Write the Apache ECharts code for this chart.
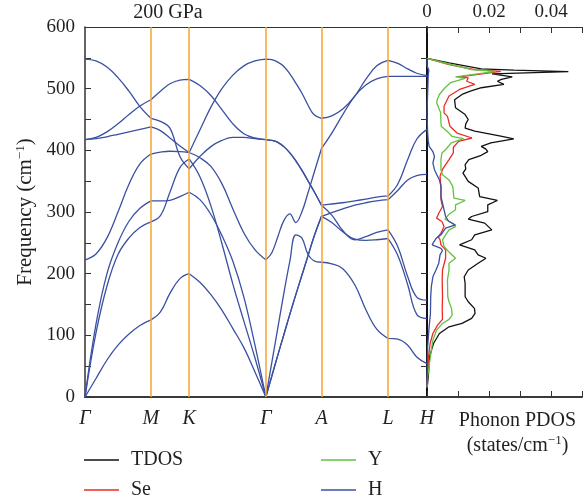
<!DOCTYPE html>
<html>
<head>
<meta charset="utf-8">
<script src="https://cdn.jsdelivr.net/npm/echarts@6/dist/echarts.min.js"></script>
<style>html,body{margin:0;padding:0;background:#fff}#c{width:585px;height:504px}</style>
</head>
<body>
<div id="c"></div>
<script>
// ---- k-path (high-symmetry points) ----
const kLabels = ['Γ', 'M', 'K', 'Γ', 'A', 'L', 'H'];
const kPos = [0, 66, 104.3, 181, 236.7, 303.3, 342.3];
// sample positions along each path segment
const segX = [
  [0, 11, 22, 33, 44, 55, 66],
  [66, 75.5, 85, 95, 104.3],
  [104.3, 115, 126, 137, 148, 159, 170, 181],
  [181, 187, 193, 199, 205, 211, 217, 223, 229, 236.7],
  [236.7, 247, 258, 270, 281, 292, 303.3],
  [303.3, 313, 323, 332, 342.3]
];
// ---- phonon bands (cm^-1), one array per segment ----
const band1 = [
  [417.5, 419, 422, 426, 430, 434, 438],
  [438, 432, 420, 407, 396.5],
  [396.5, 433, 470, 500, 522, 537, 545, 548],
  [548, 547, 543, 536, 524, 509, 493, 474, 458, 452],
  [452, 456, 467, 488, 515, 537, 546],
  [546, 541, 532, 525, 521]
];
const band2 = [
  [548, 545, 535, 518, 496, 471, 452],
  [452, 447, 436, 390, 370],
  [370, 390, 406, 416, 421, 421, 419, 417.5],
  [417.5, 416, 413, 406, 396, 383, 368, 351, 334, 311],
  [311, 313, 315, 318, 321, 324, 326],
  [326, 345, 385, 418, 434]
];
const band3 = [
  [417.5, 421, 430, 443, 458, 472, 482],
  [482, 496, 508, 514, 515],
  [515, 505, 489, 466, 443, 427, 420, 417.5],
  [417.5, 416, 413, 406, 396, 383, 368, 351, 334, 311],
  [311, 295, 270, 255, 260, 267, 271],
  [271, 244, 195, 162, 157]
];
const band4 = [
  [222.5, 232, 258, 300, 345, 378, 394],
  [394, 397, 398.5, 398, 396.5],
  [396.5, 388, 374, 346, 305, 266, 239, 222.5],
  [222.5, 234, 260, 286, 297, 283, 300, 330, 362, 403],
  [403, 428, 458, 488, 506, 516, 520],
  [520, 520, 520, 520, 520]
];
const band5 = [
  [0, 30, 60, 84, 102, 116, 125],
  [125, 138, 168, 192, 200],
  [200, 186, 166, 141, 111, 80, 41, 0],
  [0, 56, 112, 168, 220, 263, 258, 232, 221, 218.5],
  [218.5, 216, 208, 182, 142, 110, 95],
  [95, 94, 84, 65, 54]
];
const band6 = [
  [0, 104, 180, 231, 258, 275, 284],
  [284, 294, 332, 372, 386],
  [386, 357, 310, 249, 183, 123, 64, 0],
  [0, 34, 68, 101, 134, 166, 197, 228, 259, 293],
  [293, 299, 305, 311, 315, 318, 320],
  [320, 335, 352, 359, 361]
];
const band7 = [
  [0, 118, 200, 250, 285, 306, 318],
  [318, 318, 319, 325, 332],
  [332, 320, 296, 262, 220, 162, 85, 0],
  [0, 34, 68, 101, 134, 166, 197, 228, 259, 293],
  [293, 283, 268, 256, 254, 255, 257],
  [257, 230, 182, 134, 127]
];
const bands = [band1, band2, band3, band4, band5, band6, band7];

// ---- phonon PDOS: [frequency cm^-1, states/cm^-1] ----
const tdos = [[549,0],[542,0.0071],[532,0.0175],[530,0.028],[527.5,0.0456],[524,0.021],[521.5,0.0206],[519,0.0275],[515,0.024],[512,0.0227],[507,0.0248],[501.5,0.0175],[496,0.014],[490.6,0.0113],[482,0.0089],[469,0.0092],[458,0.0123],[450,0.0133],[443,0.0125],[436,0.0123],[431,0.0154],[423,0.0238],[418.5,0.028],[412,0.0206],[406.5,0.0175],[402,0.019],[398,0.0196],[392,0.0175],[385,0.0135],[377,0.0123],[370,0.0125],[363,0.0116],[356,0.0125],[349.6,0.0133],[339,0.0165],[325,0.017],[318.7,0.0227],[311.7,0.0196],[300.8,0.0196],[292.7,0.0144],[288.4,0.0133],[282,0.0186],[271,0.0209],[263,0.0154],[255,0.0144],[246.7,0.0105],[238.5,0.0154],[230.4,0.0165],[225,0.019],[217,0.0165],[206,0.0133],[195,0.012],[184,0.0123],[162.6,0.0123],[154.5,0.0133],[143.7,0.0153],[135.6,0.0155],[127.5,0.0144],[119.3,0.0113],[113.8,0.0071],[103,0.004],[86.8,0.0021],[65,0.0008],[38,0.0005],[12,0]];
const pdosSe = [[549,0],[539,0.0071],[531,0.0154],[528,0.0238],[519,0.0105],[517.6,0.0133],[512,0.0128],[507,0.0154],[498.7,0.0105],[488,0.0071],[471.5,0.0055],[460.8,0.0055],[455,0.0066],[439,0.0074],[428,0.0097],[420,0.0145],[414.6,0.0102],[405,0.0085],[396,0.0085],[385,0.0071],[369,0.005],[358,0.0042],[341.5,0.0045],[320,0.0045],[309,0.005],[298,0.0038],[290,0.0031],[284.5,0.0048],[276.4,0.0055],[265.7,0.0045],[260,0.0036],[255,0.0042],[246.7,0.0045],[238.5,0.006],[225,0.006],[206,0.005],[190,0.0049],[162.6,0.005],[141,0.0049],[126,0.005],[116.6,0.0034],[103,0.0019],[86.8,0.001],[65,0.0005],[43,0.0002],[18,0]];
const pdosY = [[549,0],[540,0.0071],[531,0.0144],[528,0.0222],[519,0.0092],[516.6,0.0123],[509.6,0.0076],[501.5,0.0058],[490.6,0.004],[482,0.0033],[477,0.0031],[460.8,0.0044],[444.6,0.0045],[439,0.0046],[428,0.0071],[422.8,0.008],[419,0.0118],[412,0.0078],[401,0.006],[395.8,0.0048],[385,0.0045],[368.6,0.0045],[360.5,0.005],[352,0.0071],[341.5,0.0083],[322.6,0.0087],[318.7,0.0123],[311.7,0.0092],[303.6,0.0092],[295.4,0.0069],[288.4,0.0058],[282,0.0081],[276.4,0.0092],[271,0.0071],[263,0.006],[254.8,0.005],[244,0.0055],[237.5,0.0066],[225,0.0092],[217,0.0071],[206,0.0071],[189.8,0.0066],[162.6,0.0067],[154.5,0.0071],[143.7,0.0079],[132.8,0.0081],[125.8,0.0071],[119.3,0.005],[108.5,0.0031],[92.2,0.0019],[76,0.0014],[54.3,0.0008],[32.5,0.0002],[15,0]];
const pdosH = [[549,0],[537,0],[530,0.0006],[527,0.001],[522,0.0004],[519,0],[460,0],[430,0.0002],[415,0.0004],[406.5,0.0007],[398,0.0019],[390,0.0024],[379.5,0.0019],[368.6,0.0024],[352,0.004],[341.5,0.0045],[325,0.0045],[314.5,0.005],[303.6,0.0055],[292.7,0.006],[285,0.007],[279,0.0092],[273.8,0.006],[263,0.0045],[257.6,0.003],[250,0.002],[246.7,0.0017],[241,0.0045],[237.5,0.005],[230.4,0.0042],[217,0.0038],[206,0.0029],[195,0.0019],[179,0.0014],[162.6,0.0012],[135.6,0.0011],[108.5,0.0006],[81,0.0002],[50,0.0001],[20,0]];
const yTicks = [0, 100, 200, 300, 400, 500, 600];
const dosTicks = [0, 0.02, 0.04];

const FONT = "'Liberation Serif', 'Times New Roman', serif";
const TXT = '#231f20';
const BLUE = '#3a50a2';
const ORANGE = '#f6a431';

const chart = echarts.init(document.getElementById('c'), null, {renderer: 'canvas'});

function bandSeries(segs, idx) {
  const data = [];
  segs.forEach((vals, s) => {
    if (s > 0) data.push(['-', '-']);
    vals.forEach((f, i) => data.push([segX[s][i], f]));
  });
  return {
    type: 'line', name: 'band' + (idx + 1), xAxisIndex: 0, yAxisIndex: 0,
    data, smooth: 0.4, symbol: 'none', showSymbol: false, connectNulls: false,
    lineStyle: {color: BLUE, width: 1.3}, itemStyle: {color: BLUE}, z: 3, silent: true
  };
}
function dosSeries(name, pts, color) {
  return {
    type: 'line', name, xAxisIndex: 2, yAxisIndex: 1,
    data: pts.map(p => [p[1], p[0]]), symbol: 'none', showSymbol: false,
    lineStyle: {color, width: 1.3}, itemStyle: {color}, z: 3, silent: true
  };
}
function legendItem(name, left, top) {
  return {
    data: [name], orient: 'vertical', left, top, padding: 0,
    icon: 'rect', itemWidth: 35, itemHeight: 1.6, selectedMode: false,
    textStyle: {fontFamily: FONT, fontSize: 20, color: TXT, lineHeight: 20, padding: [0, 0, 0, 7]}
  };
}

const series = bands.map(bandSeries);
series.push({
  type: 'line', name: 'kLines', xAxisIndex: 0, yAxisIndex: 0, data: [], z: 1, silent: true,
  markLine: {
    silent: true, symbol: ['none', 'none'], label: {show: false},
    lineStyle: {color: ORANGE, width: 1.5, type: 'solid'},
    data: kPos.slice(1, 6).map(x => ({xAxis: x}))
  }
});
series.push(dosSeries('TDOS', tdos, '#111111'));
series.push(dosSeries('Se', pdosSe, '#ee2a24'));
series.push(dosSeries('Y', pdosY, '#62c241'));
series.push(dosSeries('H', pdosH, BLUE));

const option = {
  animation: false,
  backgroundColor: '#ffffff',
  title: {
    text: '200 GPa', left: 168, top: 3, textAlign: 'center', padding: 0,
    textStyle: {fontFamily: FONT, fontSize: 20, fontWeight: 'normal', color: TXT}
  },
  grid: [
    {left: 85, top: 27, width: 342, height: 370},
    {left: 427, top: 27, width: 160, height: 370}
  ],
  legend: [
    legendItem('TDOS', 84, 450),
    legendItem('Se', 84, 480),
    legendItem('Y', 321, 450),
    legendItem('H', 321, 480)
  ],
  xAxis: [
    {
      gridIndex: 0, type: 'value', min: 0, max: kPos[kPos.length - 1], position: 'bottom',
      axisLine: {show: true, onZero: false, lineStyle: {color: '#3a3a3a', width: 2}},
      axisTick: {show: false}, splitLine: {show: false},
      axisLabel: {
        customValues: kPos, margin: 12,
        fontFamily: FONT, fontSize: 20, fontStyle: 'italic', color: TXT,
        formatter: v => { const i = kPos.indexOf(v); return i >= 0 ? kLabels[i] : ''; }
      }
    },
    {
      gridIndex: 0, type: 'value', min: 0, max: kPos[kPos.length - 1], position: 'top',
      axisLine: {show: true, onZero: false, lineStyle: {color: '#333', width: 1}},
      axisTick: {show: false}, axisLabel: {show: false}, splitLine: {show: false}
    },
    {
      gridIndex: 1, type: 'value', min: 0, max: 0.05, interval: 0.01, position: 'top',
      axisLine: {show: true, onZero: false, lineStyle: {color: '#333', width: 1}},
      axisTick: {show: true, inside: true, length: 6, lineStyle: {color: '#333', width: 1}},
      splitLine: {show: false},
      axisLabel: {
        margin: 5, fontFamily: FONT, fontSize: 19, color: TXT,
        formatter: v => {
          const k = Math.round(v * 100);
          const d = dosTicks.find(t => Math.abs(t - v) < 1e-9);
          return d === undefined ? '' : (k === 0 ? '0' : d.toFixed(2));
        }
      }
    },
    {
      gridIndex: 1, type: 'value', min: 0, max: 0.05, interval: 0.01, position: 'bottom',
      axisLine: {show: true, onZero: false, lineStyle: {color: '#3a3a3a', width: 2}},
      axisTick: {show: true, inside: true, length: 6, lineStyle: {color: '#333', width: 1}},
      axisLabel: {show: false}, splitLine: {show: false},
      name: '{a|Phonon PDOS}\n{a|(states/cm}{s|−1}{a|)}',
      nameLocation: 'middle', nameGap: 11,
      nameTextStyle: {
        padding: [0, 0, 0, 26],
        rich: {
          a: {fontFamily: FONT, fontSize: 20, color: TXT, lineHeight: 25},
          s: {fontFamily: FONT, fontSize: 13, color: TXT, padding: [0, 0, 10, 0]}
        }
      }
    }
  ],
  yAxis: [
    {
      gridIndex: 0, type: 'value', min: 0, max: 600, interval: 50, position: 'left',
      axisLine: {show: true, onZero: false, lineStyle: {color: '#333', width: 1.5}},
      axisTick: {show: true, inside: true, length: 6, lineStyle: {color: '#333', width: 1}},
      splitLine: {show: false},
      axisLabel: {
        margin: 10, fontFamily: FONT, fontSize: 19, color: TXT,
        formatter: v => (yTicks.indexOf(v) >= 0 ? String(v) : '')
      },
      name: '{a|Frequency (cm}{s|−1}{a|)}',
      nameLocation: 'middle', nameGap: 47, nameRotate: 90,
      nameTextStyle: {
        rich: {
          a: {fontFamily: FONT, fontSize: 21, color: TXT},
          s: {fontFamily: FONT, fontSize: 13, color: TXT, padding: [0, 0, 10, 0]}
        }
      }
    },
    {
      gridIndex: 1, type: 'value', min: 0, max: 600, interval: 50, position: 'left',
      axisLine: {show: true, onZero: false, lineStyle: {color: '#111', width: 2}},
      axisTick: {show: true, inside: false, length: 6, lineStyle: {color: '#333', width: 1}},
      axisLabel: {show: false}, splitLine: {show: false}
    }
  ],
  series
};
chart.setOption(option);
</script>
</body>
</html>
